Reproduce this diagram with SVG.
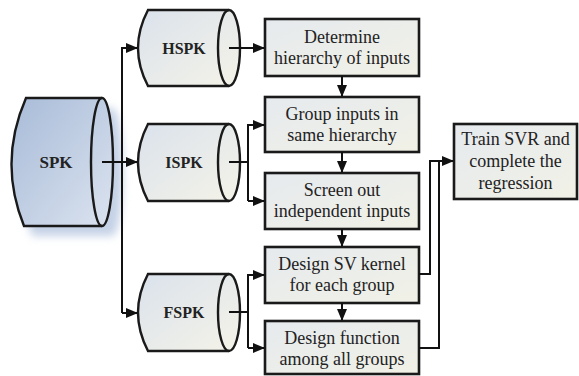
<svg xmlns="http://www.w3.org/2000/svg" width="579" height="376" viewBox="0 0 579 376">
<defs>
<linearGradient id="gCyl" x1="0" y1="0" x2="1" y2="1">
<stop offset="0" stop-color="#dbe2ec"/>
<stop offset="1" stop-color="#f4f3e8"/>
</linearGradient>
<linearGradient id="gSpk" x1="0" y1="0" x2="1" y2="1">
<stop offset="0" stop-color="#a8bbd8"/>
<stop offset="1" stop-color="#dbe3ef"/>
</linearGradient>
<linearGradient id="gBox" x1="0" y1="0" x2="1" y2="1">
<stop offset="0" stop-color="#e6eaee"/>
<stop offset="1" stop-color="#f1f1e6"/>
</linearGradient>
<filter id="blur" x="-30%" y="-30%" width="160%" height="160%">
<feGaussianBlur stdDeviation="4"/>
</filter>
<marker id="arr" markerWidth="12" markerHeight="10" refX="11" refY="5" orient="auto" markerUnits="userSpaceOnUse">
<path d="M0,0 L12,5 L0,10 Z" fill="#111"/>
</marker>
</defs>
<style>
.cyl{stroke:#1a1a1a;stroke-width:2.4;}
.box{fill:url(#gBox);stroke:#1a1a1a;stroke-width:2.6;}
.ln{fill:none;stroke:#111;stroke-width:2;}
text{font-family:'Liberation Serif','Times New Roman',serif;fill:#222;text-anchor:middle;}
.t{font-size:18px;}
.b{font-size:16px;font-weight:bold;}
</style>

<g id="SPK">
<path d="M36,108 L112,108 A11,64 0 0 1 112,236 L32,236 Q8,172 36,108 Z" fill="#c5d2e6" filter="url(#blur)"/>
<path class="cyl" fill="url(#gSpk)" d="M26,98 L102,98 A11,64 0 0 1 102,226 L24,226 Q-2,162 26,98 Z"/>
<path class="cyl" fill="none" d="M102,98 A11,64 0 0 0 102,226"/>
<text class="b" style="font-size:17px" x="56" y="168" font-family="Liberation Serif, serif">SPK</text>
</g>

<g id="HSPK">
<path class="cyl" fill="url(#gCyl)" d="M148,10 L229,10 A11,38 0 0 1 229,86 L148,86 Q128,48 148,10 Z"/>
<path class="cyl" fill="none" d="M229,10 A11,38 0 0 0 229,86"/>
<text class="b" x="184" y="54">HSPK</text>
</g>

<g id="ISPK">
<path class="cyl" fill="url(#gCyl)" d="M148,124 L229,124 A11,38.5 0 0 1 229,201 L148,201 Q128,162.5 148,124 Z"/>
<path class="cyl" fill="none" d="M229,124 A11,38.5 0 0 0 229,201"/>
<text class="b" x="184" y="168">ISPK</text>
</g>

<g id="FSPK">
<path class="cyl" fill="url(#gCyl)" d="M148,274 L229,274 A11,38.5 0 0 1 229,351 L148,351 Q128,312.5 148,274 Z"/>
<path class="cyl" fill="none" d="M229,274 A11,38.5 0 0 0 229,351"/>
<text class="b" x="184" y="318">FSPK</text>
</g>

<g id="box1">
<rect class="box" x="265" y="19" width="154" height="57"/>
<text class="t" x="342" y="43">Determine</text>
<text class="t" x="342" y="64">hierarchy of inputs</text>
</g>

<g id="box2">
<rect class="box" x="265" y="97" width="154" height="55"/>
<text class="t" x="342" y="120">Group inputs in</text>
<text class="t" x="342" y="141">same hierarchy</text>
</g>

<g id="box3">
<rect class="box" x="265" y="173" width="154" height="56"/>
<text class="t" x="342" y="196">Screen out</text>
<text class="t" x="342" y="217">independent inputs</text>
</g>

<g id="box4">
<rect class="box" x="265" y="247" width="154" height="56"/>
<text class="t" x="342" y="270">Design SV kernel</text>
<text class="t" x="342" y="291">for each group</text>
</g>

<g id="box5">
<rect class="box" x="265" y="321" width="154" height="53"/>
<text class="t" x="342" y="344">Design function</text>
<text class="t" x="342" y="365">among all groups</text>
</g>

<g id="box6">
<rect class="box" x="454" y="124" width="123" height="75"/>
<text class="t" x="515.5" y="145">Train SVR and</text>
<text class="t" x="515.5" y="167">complete the</text>
<text class="t" x="515.5" y="189">regression</text>
</g>

<g id="connectors">
<path class="ln" d="M102,162 L137,162" marker-end="url(#arr)"/>
<path class="ln" d="M122,313 L122,48 L137,48" marker-end="url(#arr)"/>
<path class="ln" d="M122,313 L137,313" marker-end="url(#arr)"/>
<path class="ln" d="M229,48 L264,48" marker-end="url(#arr)"/>
<path class="ln" d="M229,162 L248,162"/>
<path class="ln" d="M248,201 L248,125 L264,125" marker-end="url(#arr)"/>
<path class="ln" d="M248,201 L264,201" marker-end="url(#arr)"/>
<path class="ln" d="M229,312 L248,312"/>
<path class="ln" d="M248,348 L248,275 L264,275" marker-end="url(#arr)"/>
<path class="ln" d="M248,348 L264,348" marker-end="url(#arr)"/>
<path class="ln" d="M342,76 L342,96" marker-end="url(#arr)"/>
<path class="ln" d="M342,152 L342,172" marker-end="url(#arr)"/>
<path class="ln" d="M342,229 L342,246" marker-end="url(#arr)"/>
<path class="ln" d="M342,303 L342,320" marker-end="url(#arr)"/>
<path class="ln" d="M419,274 L430,274 L430,161 L453,161" marker-end="url(#arr)"/>
<path class="ln" d="M419,348 L439,348 L439,161"/>
</g>
</svg>
